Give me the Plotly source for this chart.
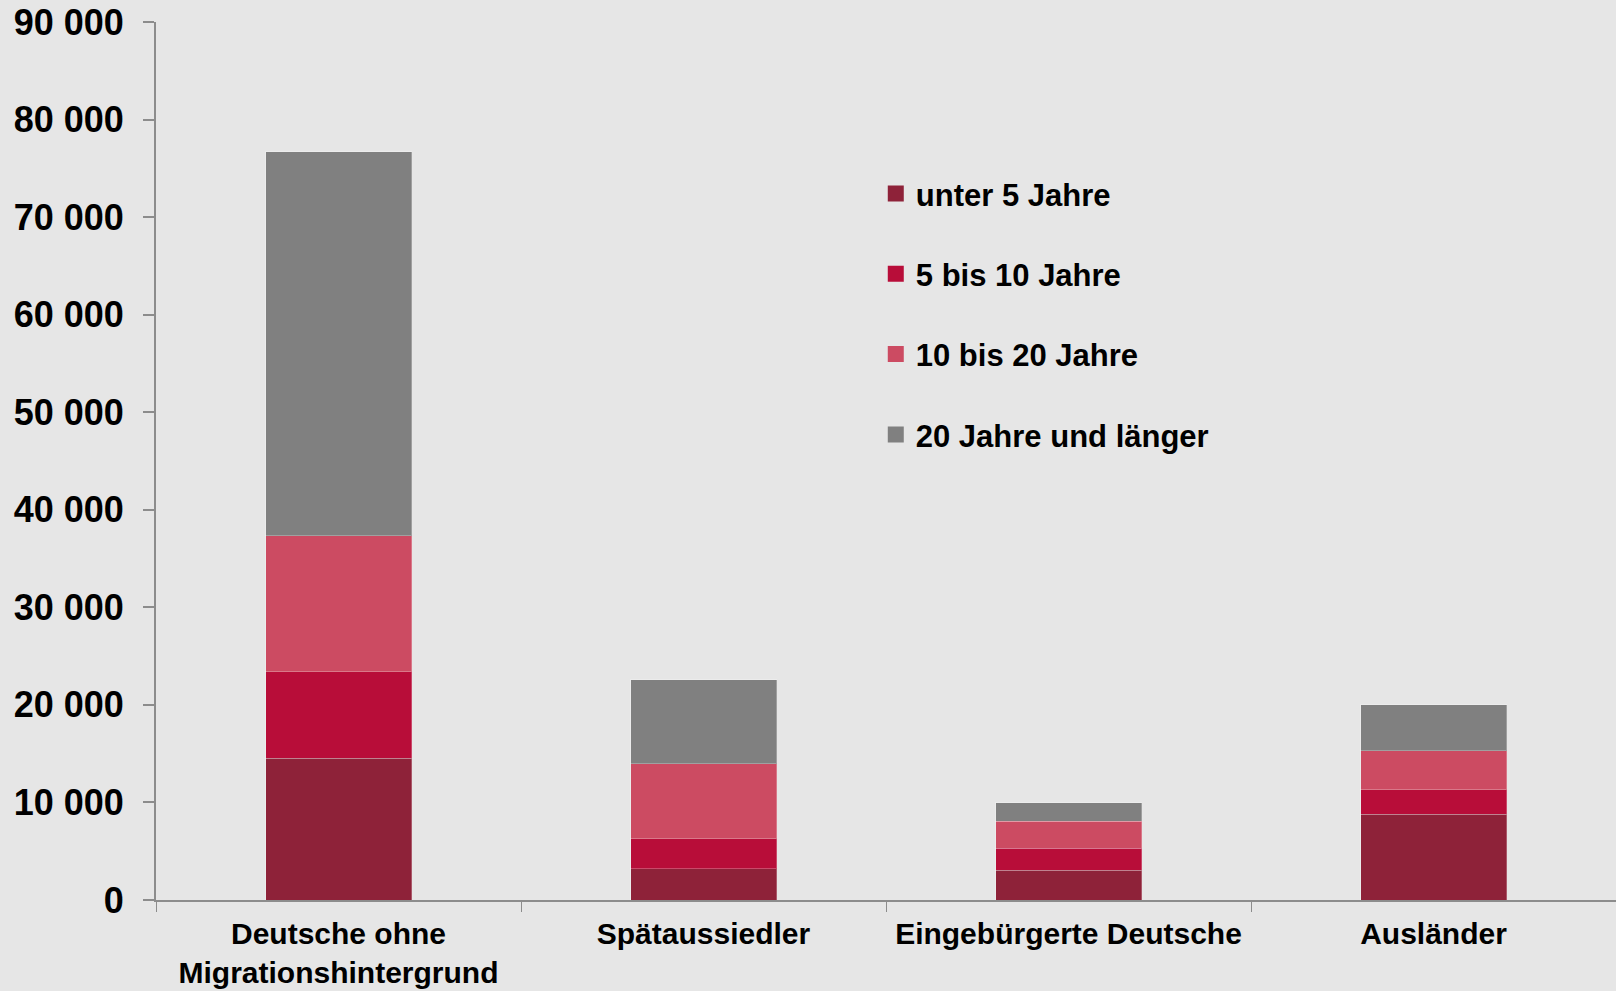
import plotly.graph_objects as go

categories = ["Deutsche ohne<br>Migrationshintergrund", "Spätaussiedler",
              "Eingebürgerte Deutsche", "Ausländer"]

unter_5 = [14530, 3180, 3040, 8790]
bis_10 = [8890, 3080, 2290, 2490]
bis_20 = [13910, 7720, 2740, 4030]
ueber_20 = [39360, 8580, 1880, 4720]

series = [
    ("unter 5 Jahre", unter_5, "#8E2239"),
    ("5 bis 10 Jahre", bis_10, "#B80D39"),
    ("10 bis 20 Jahre", bis_20, "#CC4B62"),
    ("20 Jahre und länger", ueber_20, "#808080"),
]

BG = "#E6E6E6"
AXIS = "#8C8C8C"
FONT = "Liberation Sans, Arial, sans-serif"

fig = go.Figure()
for name, vals, color in series:
    fig.add_trace(go.Bar(
        x=categories, y=vals, name=name, legendgroup=name, showlegend=False,
        marker=dict(color=color, line=dict(color="rgba(255,255,255,0.25)", width=1)),
    ))
    # legend-only entry so the swatch can be bigger than plotly's bar icon
    fig.add_trace(go.Scatter(
        x=[None], y=[None], name=name, legendgroup=name, mode="markers",
        marker=dict(symbol="square", size=16, color=color),
    ))

fig.update_layout(
    width=1616, height=991,
    barmode="stack", bargap=0.6,
    separators=", ",
    paper_bgcolor=BG, plot_bgcolor=BG,
    margin=dict(l=156, r=0, t=22, b=91, autoexpand=False),
    font=dict(family=FONT, color="#000000", weight="bold"),
    legend=dict(
        x=0.493, y=0.835, xanchor="left", yanchor="top",
        traceorder="grouped", tracegroupgap=37,
        bgcolor="rgba(0,0,0,0)", font=dict(size=31, family=FONT, weight="bold"),
    ),
    xaxis=dict(
        showline=True, linecolor=AXIS, linewidth=2,
        ticks="outside", tickson="boundaries", ticklen=10, tickcolor=AXIS, tickwidth=1,
        ticklabelstandoff=6,
        tickfont=dict(size=30, family=FONT, weight="bold"),
        showgrid=False, zeroline=False,
    ),
    yaxis=dict(
        range=[0, 90000], dtick=10000, tickformat=",d",
        showline=True, linecolor=AXIS, linewidth=2,
        ticks="outside", ticklen=11, tickcolor=AXIS, tickwidth=2,
        ticklabelstandoff=12,
        tickfont=dict(size=36, family=FONT, weight="bold"),
        showgrid=False, zeroline=False,
    ),
)

fig.write_html("out.html", config={"displayModeBar": False})

# drop the browser's default 8px body margin
with open("out.html", encoding="utf-8") as f:
    html = f.read()
html = html.replace("<body>", '<body style="margin:0">', 1)
with open("out.html", "w", encoding="utf-8") as f:
    f.write(html)
